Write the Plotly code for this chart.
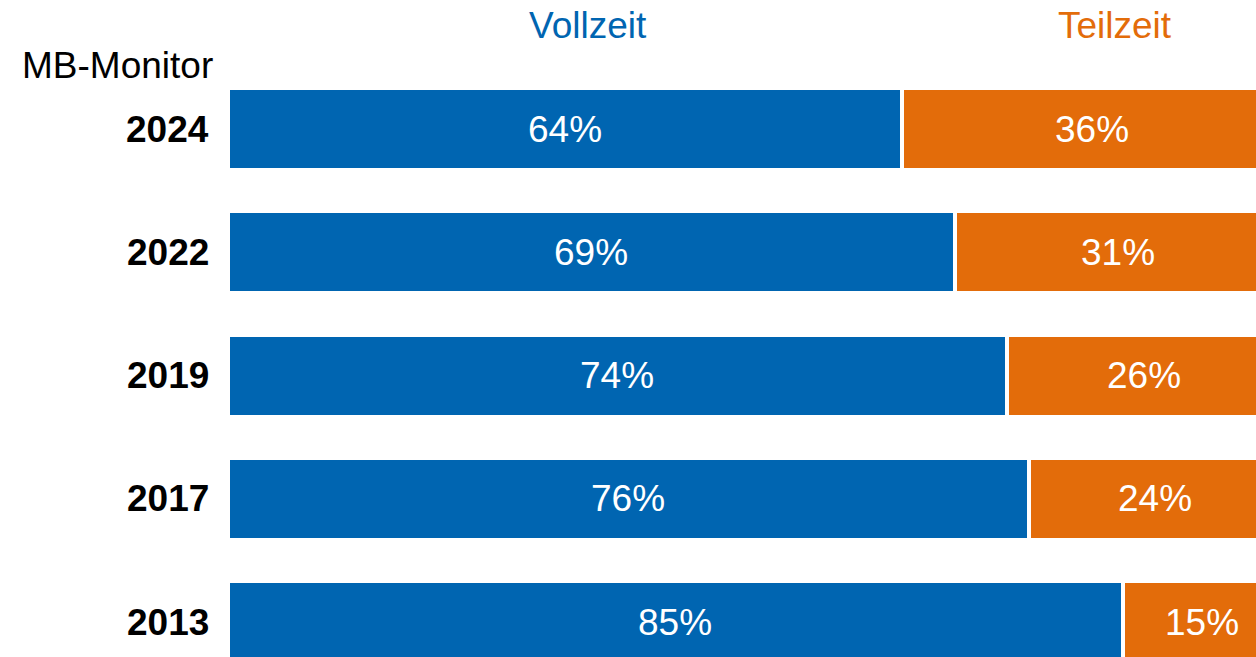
import plotly.graph_objects as go

years = ["2024", "2022", "2019", "2017", "2013"]
vollzeit = [64, 69, 74, 76, 85]
teilzeit = [36, 31, 26, 24, 15]
series_names = ["Vollzeit", "Teilzeit"]
colors = ["#0065B1", "#E36C0A"]
axis_title = "MB-Monitor"

FONT = "Arial, Liberation Sans, sans-serif"
W, H = 1256, 657
x0_px = 227.5
scale = 1054.0  # px per 100%

fig = go.Figure()
for name, vals, col in [(series_names[0], vollzeit, colors[0]), (series_names[1], teilzeit, colors[1])]:
    fig.add_trace(go.Bar(
        y=years, x=[v / 100 for v in vals], name=name, orientation="h",
        marker=dict(color=col, line=dict(color="white", width=4)),
        width=0.665, hoverinfo="skip",
    ))

annotations = []
for i, (y, v, t) in enumerate(zip(years, vollzeit, teilzeit)):
    annotations.append(dict(x=v / 200, y=i, xref="x", yref="y", text=f"{v}%", showarrow=False,
                            font=dict(family=FONT, size=37, color="white"), xanchor="center", yanchor="middle"))
    annotations.append(dict(x=v / 100 + t / 200, y=i, xref="x", yref="y", text=f"{t}%", showarrow=False,
                            font=dict(family=FONT, size=37, color="white"), xanchor="center", yanchor="middle"))
    annotations.append(dict(x=211 / W, y=i, xref="paper", yref="y", text=f"<b>{y}</b>", showarrow=False,
                            font=dict(family=FONT, size=37, color="black"), xanchor="right", yanchor="middle"))

annotations.append(dict(x=20 / W, y=1 - 65 / H, xref="paper", yref="paper", text=axis_title, showarrow=False,
                        font=dict(family=FONT, size=37, color="black"), xanchor="left", yanchor="middle"))
annotations.append(dict(x=588 / W, y=1 - 25 / H, xref="paper", yref="paper", text=series_names[0], showarrow=False,
                        font=dict(family=FONT, size=37, color=colors[0]), xanchor="center", yanchor="middle"))
annotations.append(dict(x=1115 / W, y=1 - 25 / H, xref="paper", yref="paper", text=series_names[1], showarrow=False,
                        font=dict(family=FONT, size=37, color=colors[1]), xanchor="center", yanchor="middle"))

x_max = (W - x0_px) / scale
fig.update_layout(
    width=W, height=H, barmode="stack", showlegend=False,
    margin=dict(l=0, r=0, t=0, b=0),
    paper_bgcolor="white", plot_bgcolor="white",
    xaxis=dict(domain=[x0_px / W, 1], range=[0, x_max], visible=False, fixedrange=True),
    yaxis=dict(type="category", range=[4 + (657 - 622.3) / 123.3, -129 / 123.3], visible=False, fixedrange=True),
    annotations=annotations,
    font=dict(family=FONT),
)
fig.write_html("out.html", config={"displayModeBar": False},
               post_script="document.body.style.margin='0';document.body.style.overflow='hidden';")
